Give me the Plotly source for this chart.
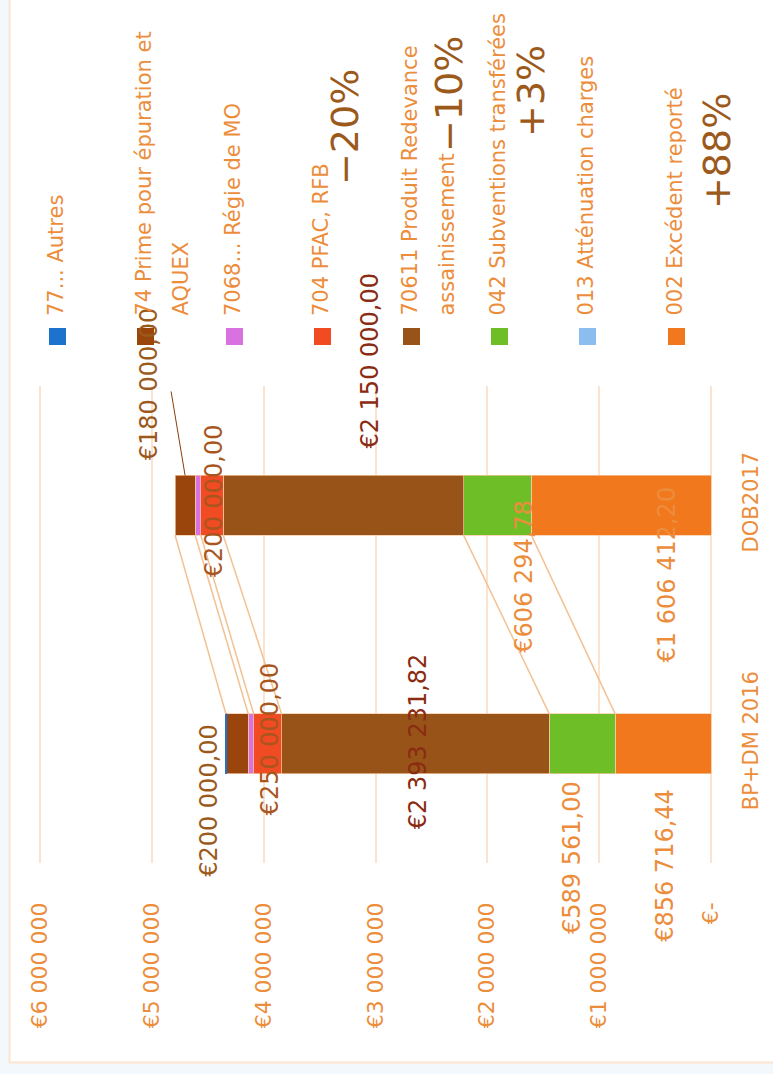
import plotly.graph_objects as go

# ---- data -------------------------------------------------------------
categories = ["BP+DM 2016", "DOB2017"]

series_names = [
    "002 Excédent reporté",
    "013 Atténuation charges",
    "042 Subventions transférées",
    "70611 Produit Redevance assainissement",
    "704 PFAC, RFB",
    "7068... Régie de MO",
    "74 Prime pour épuration et AQUEX",
    "77... Autres",
]
v002 = [856716.44, 1606412.20]
v013 = [0.0, 0.0]
v042 = [589561.00, 606294.78]
v70611 = [2393231.82, 2150000.00]
v704 = [250000.00, 200000.00]
v7068 = [48000.00, 50000.00]
v74 = [200000.00, 180000.00]
v77 = [3000.00, 0.0]

tick_values = [0, 1000000, 2000000, 3000000, 4000000, 5000000, 6000000]
tick_labels = ["€-", "€1 000 000", "€2 000 000", "€3 000 000",
               "€4 000 000", "€5 000 000", "€6 000 000"]

# ---- styling ----------------------------------------------------------
series_values = [v002, v013, v042, v70611, v704, v7068, v74, v77]
series_colors = ["#f2781e", "#8bbdee", "#6ebf27", "#985318",
                 "#f04b22", "#d972e0", "#9a450b", "#1c72cc"]
FONT = "DejaVu Sans"
ORANGE_TXT = "#ec8d3c"
BROWN_TXT = "#9b5a1c"
DARKRED_TXT = "#8a2b12"

W, H = 773, 1074
L, R, T, B = 38, 713, 386, 863          # plot area in pixels (0 at 711, 6M at 40)
X0_PX, X6_PX = 711, 40
BAR_W = 0.25
ypos = [0, 1]

scale = 6000000 / (X0_PX - X6_PX)         # value units per pixel
x_range = [6000000 + (X6_PX - L) * scale, -(R - X0_PX) * scale]


def pxx(x):
    return (x - L) / (R - L)


def pxy(y):
    return (B - y) / (B - T)


def fr(v):
    """French currency formatting: €1 234 567,89"""
    s = f"{v:,.2f}"
    s = s.replace(",", " ").replace(".", ",")
    return "€" + s


fig = go.Figure()

# stacked horizontal bars
for name, vals, col in zip(series_names, series_values, series_colors):
    fig.add_trace(go.Bar(
        y=ypos, x=vals, orientation="h", width=BAR_W, name=name,
        marker=dict(color=col, line=dict(color="rgba(246,200,160,0.9)", width=0.8)),
        showlegend=False, hoverinfo="x+name",
    ))
# make the tiny "Autres" slice visible as a thin edge (only where it is non-zero)
fig.data[-1].marker.line.color = "#1c72cc"
fig.data[-1].marker.line.width = [1.2 if v > 0 else 0 for v in v77]

# cumulative boundaries
cum = [[0.0, 0.0]]
for vals in series_values:
    cum.append([cum[-1][0] + vals[0], cum[-1][1] + vals[1]])

# connector lines between the two stacks (ends of 002, 042, 70611, 704, 7068, 74)
for k in [1, 3, 4, 5, 6, 7]:
    fig.add_trace(go.Scatter(
        x=[cum[k][0], cum[k][1]], y=[BAR_W / 2, 1 - BAR_W / 2],
        mode="lines", line=dict(color="#f3c294", width=1.5),
        showlegend=False, hoverinfo="skip",
    ))

annotations = []
shapes = []

# value labels: (series index, category index, xshift, yshift, colour)
label_spec = [
    (6, 1, -36, 121, BROWN_TXT),
    (4, 1, 2, 5, "#a8561e"),
    (3, 1, 27, 145, DARKRED_TXT),
    (2, 1, 27, -71, ORANGE_TXT),
    (0, 1, 46, -69, ORANGE_TXT),
    (6, 0, -28, -57, BROWN_TXT),
    (4, 0, 2, 5, "#a8561e"),
    (3, 0, 2, 3, DARKRED_TXT),
    (2, 0, -10, -114, ORANGE_TXT),
    (0, 0, 2, -122, ORANGE_TXT),
]
for si, ci, xs, ys, col in label_spec:
    center = (cum[si][ci] + cum[si + 1][ci]) / 2
    annotations.append(dict(
        x=center, y=ypos[ci], xref="x", yref="y", text=fr(series_values[si][ci]),
        showarrow=False, textangle=-90, xshift=xs, yshift=ys,
        font=dict(family=FONT, size=24, color=col),
        xanchor="center", yanchor="middle",
    ))

# leader line for the 74 label of DOB2017
c74 = (cum[6][1] + cum[7][1]) / 2
shapes.append(dict(
    type="line", xref="x", yref="y",
    x0=c74, y0=1 + BAR_W / 2,
    x1=c74 + 14 * scale, y1=1 + BAR_W / 2 + 84 * 2 / (B - T),
    line=dict(color="#8a3d0c", width=1),
))

# change percentages between the two budgets
pct_spec = [(4, 345, 127), (3, 449, 94), (2, 531, 91), (0, 717, 151)]
for si, cx, cy in pct_spec:
    a, b = series_values[si]
    p = round((b / a - 1) * 100)
    txt = ("+" if p > 0 else "−") + f"{abs(p)}%"
    annotations.append(dict(
        x=pxx(cx), y=pxy(cy), xref="paper", yref="paper", text=txt,
        showarrow=False, textangle=-90, xanchor="center", yanchor="middle",
        font=dict(family=FONT, size=38, color=BROWN_TXT),
    ))

# custom vertical legend (order left to right)
legend_order = [7, 6, 5, 4, 3, 2, 1, 0]
legend_lines = {
    7: ["77... Autres"],
    6: ["74 Prime pour épuration et", "AQUEX"],
    5: ["7068... Régie de MO"],
    4: ["704 PFAC, RFB"],
    3: ["70611 Produit Redevance", "assainissement"],
    2: ["042 Subventions transférées"],
    1: ["013 Atténuation charges"],
    0: ["002 Excédent reporté"],
}
sq_centers = [57.5, 145.5, 234.5, 322.5, 411.5, 499.5, 587.5, 676.5]
for si, sx in zip(legend_order, sq_centers):
    shapes.append(dict(
        type="rect", xref="paper", yref="paper",
        x0=pxx(sx - 8.5), x1=pxx(sx + 8.5), y0=pxy(345), y1=pxy(328),
        fillcolor=series_colors[si], line=dict(width=0),
    ))
    for li, line in enumerate(legend_lines[si]):
        annotations.append(dict(
            x=pxx(sx - 2 + 37 * li), y=pxy(318), xref="paper", yref="paper",
            text=line, showarrow=False, textangle=-90,
            xanchor="center", yanchor="bottom",
            font=dict(family=FONT, size=21, color=ORANGE_TXT),
        ))

# white card behind the chart
shapes.insert(0, dict(
    type="rect", xref="paper", yref="paper", layer="below",
    x0=pxx(9.5), x1=pxx(800), y0=pxy(1062.5), y1=pxy(-20),
    fillcolor="white", line=dict(color="#fce4cf", width=2),
))

fig.update_layout(
    width=W, height=H,
    margin=dict(l=L, r=W - R, t=T, b=H - B, pad=0),
    barmode="stack",
    paper_bgcolor="#f3f8fc",
    plot_bgcolor="white",
    showlegend=False,
    font=dict(family=FONT, color=ORANGE_TXT),
    xaxis=dict(
        range=x_range, tickvals=tick_values, ticktext=tick_labels,
        tickangle=-90, showgrid=True, gridcolor="#fbe3d0", gridwidth=1.5,
        zeroline=False, showline=False, ticks="", automargin=False,
        tickfont=dict(family=FONT, size=22, color=ORANGE_TXT),
        ticklabelstandoff=34, fixedrange=True,
    ),
    yaxis=dict(
        range=[-0.5, 1.5], tickvals=ypos, ticktext=categories, side="right",
        tickangle=-90, showgrid=False, zeroline=False, showline=False, ticks="",
        tickfont=dict(family=FONT, size=21, color=ORANGE_TXT),
        ticklabelstandoff=23, fixedrange=True, automargin=False,
    ),
    annotations=annotations,
    shapes=shapes,
)

fig.write_html("out.html")
